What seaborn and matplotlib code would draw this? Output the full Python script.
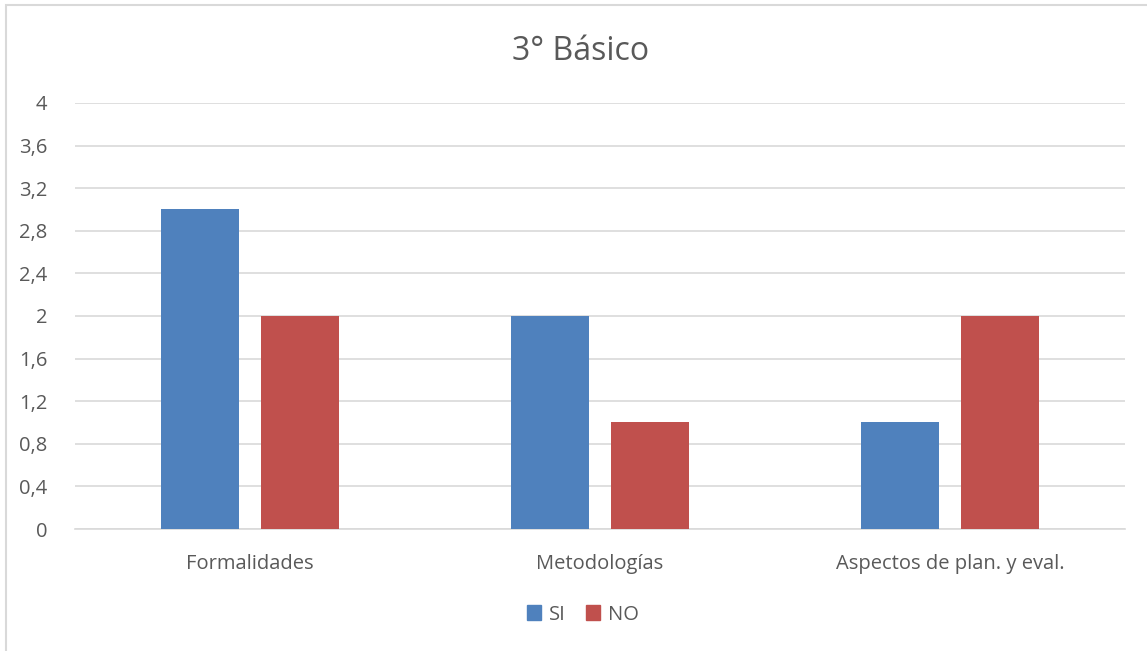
import pandas as pd
import matplotlib.pyplot as plt
import seaborn as sns
from matplotlib.patches import Rectangle, Patch

categories = ['Formalidades', 'Metodologías', 'Aspectos de plan. y eval.']
si_values = [3, 2, 1]
no_values = [2, 1, 2]
yticks = [0, 0.4, 0.8, 1.2, 1.6, 2, 2.4, 2.8, 3.2, 3.6, 4]
ytick_labels = ['0', '0,4', '0,8', '1,2', '1,6', '2', '2,4', '2,8', '3,2', '3,6', '4']

df = pd.DataFrame({
    'Categoria': categories * 2,
    'Serie': ['SI'] * 3 + ['NO'] * 3,
    'Valor': si_values + no_values,
})

sns.set_theme(style='white')
plt.rcParams['font.family'] = ['Open Sans', 'DejaVu Sans']
text_color = '#595959'

fig = plt.figure(figsize=(11.47, 6.51), dpi=100)
ax = fig.add_axes([0.0654, 0.1874, 0.9156, 0.6544])

sns.barplot(data=df, x='Categoria', y='Valor', hue='Serie',
            palette={'SI': '#4F81BD', 'NO': '#C0504D'},
            width=0.571, gap=0.22, saturation=1, linewidth=0,
            ax=ax, legend=False, zorder=3)

ax.set_ylim(0, 4)
ax.set_xlim(-0.5, 2.5)
ax.set_yticks(yticks)
ax.set_yticklabels(ytick_labels)
ax.yaxis.grid(True, color='#D9D9D9', linewidth=1.2, zorder=0)
ax.set_axisbelow(True)
for s in ['top', 'right', 'left']:
    ax.spines[s].set_visible(False)
ax.spines['bottom'].set_color('#D9D9D9')
ax.spines['bottom'].set_linewidth(1.2)
ax.tick_params(axis='both', length=0, labelsize=14.5, colors=text_color)
ax.tick_params(axis='y', pad=20)
ax.tick_params(axis='x', pad=18)
ax.set_xlabel('')
ax.set_ylabel('')

fig.text(0.506, 0.921, '3° Básico', ha='center', va='center',
         fontsize=23, color=text_color)

# legend
handles = [Patch(color='#4F81BD', label='SI'), Patch(color='#C0504D', label='NO')]
fig.legend(handles=handles, loc='center', bbox_to_anchor=(0.508, 0.056), ncol=2,
           frameon=False, fontsize=14.5, handlelength=0.7, handleheight=0.7,
           handletextpad=0.4, columnspacing=1.0, labelcolor=text_color)

# chart border
fig.patches.append(Rectangle((6 / 1147, -0.1), 1.2, 1 - 5 / 651 + 0.1,
                             transform=fig.transFigure, fill=False,
                             edgecolor='#D9D9D9', linewidth=1.5))

fig.savefig('out.png', dpi=100)
